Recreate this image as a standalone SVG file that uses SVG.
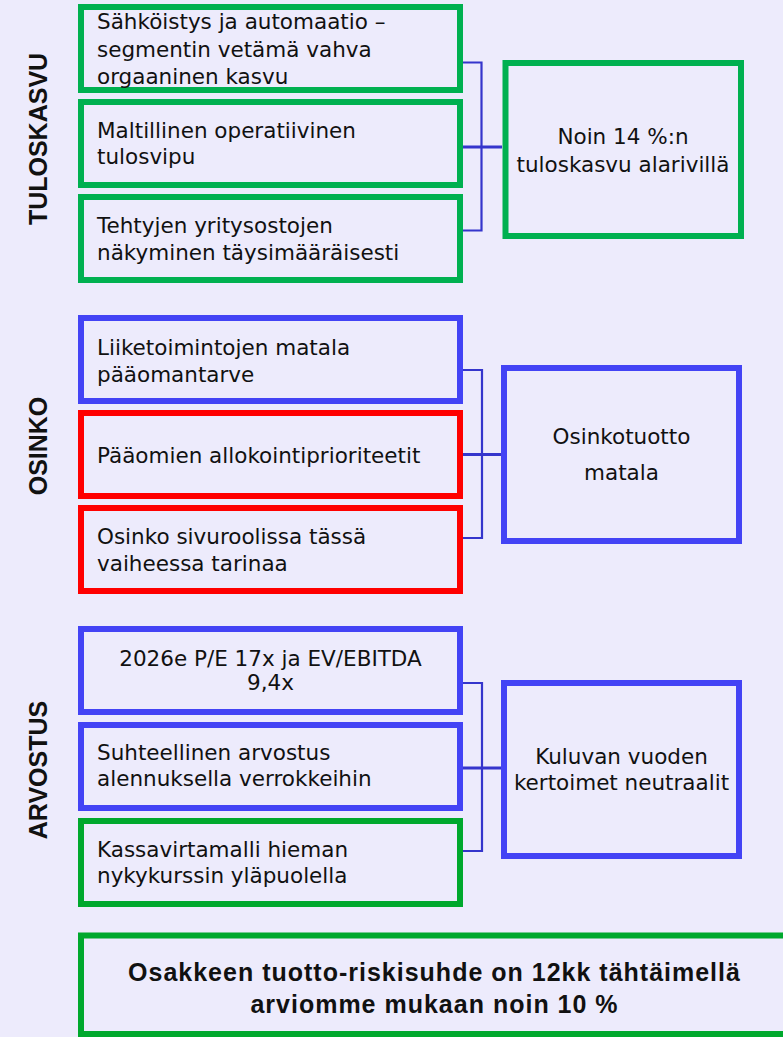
<svg xmlns="http://www.w3.org/2000/svg" width="783" height="1037" viewBox="0 0 783 1037">
<style>
.bg{fill:#EDEBFC}
.box{fill:#EDEBFC;stroke-width:6}
.g{stroke:#00B050}
.g2{stroke:#00A82D}
.b{stroke:#4343F5}
.r{stroke:#FF0000}
.t{font-family:"DejaVu Sans",sans-serif;font-size:21.5px;fill:#111}
.c{text-anchor:middle}
.lab{font-family:"Liberation Sans",Arial,sans-serif;font-weight:bold;font-size:25px;fill:#111;text-anchor:middle}
.bt{font-family:"Liberation Sans",Arial,sans-serif;font-weight:bold;font-size:25px;fill:#111;text-anchor:middle;letter-spacing:1px}
.con{fill:none;stroke:#3535CC;stroke-width:2.2}
.mid{fill:none;stroke:#3535CC;stroke-width:3.2}
</style>
<rect class="bg" x="0" y="0" width="783" height="1037"/>

<g id="connectors">
<path class="con" d="M463 62.5H481.5V230.5H463"/>
<path class="mid" d="M463 147H502"/>
<path class="con" d="M463 370H482V538H463"/>
<path class="mid" d="M463 454.5H501"/>
<path class="con" d="M463 683H482V851H463"/>
<path class="mid" d="M463 768H501"/>
</g>

<g id="label-tuloskasvu"><text class="lab" x="46.5" y="139" transform="rotate(-90 46.5 139)">TULOSKASVU</text></g>
<g id="label-osinko"><text class="lab" x="46.5" y="446" transform="rotate(-90 46.5 446)">OSINKO</text></g>
<g id="label-arvostus"><text class="lab" x="46.5" y="770" transform="rotate(-90 46.5 770)">ARVOSTUS</text></g>

<g id="t1">
<rect class="box g" x="81" y="7" width="379" height="83"/>
<text class="t" x="97" y="29">Sähköistys ja automaatio –</text>
<text class="t" x="97" y="56.5">segmentin vetämä vahva</text>
<text class="t" x="97" y="84">orgaaninen kasvu</text>
</g>
<g id="t2">
<rect class="box g" x="81" y="102" width="379" height="83"/>
<text class="t" x="97" y="138.3">Maltillinen operatiivinen</text>
<text class="t" x="97" y="164.3">tulosvipu</text>
</g>
<g id="t3">
<rect class="box g" x="81" y="197" width="379" height="83"/>
<text class="t" x="97" y="233">Tehtyjen yritysostojen</text>
<text class="t" x="97" y="260">näkyminen täysimääräisesti</text>
</g>
<g id="t-result">
<rect class="box g" x="505.5" y="63" width="235.5" height="173"/>
<text class="t c" x="623" y="143.5">Noin 14 %:n</text>
<text class="t c" x="623" y="172.3">tuloskasvu alarivillä</text>
</g>

<g id="o1">
<rect class="box b" x="81" y="318" width="379" height="83"/>
<text class="t" x="97" y="355">Liiketoimintojen matala</text>
<text class="t" x="97" y="382">pääomantarve</text>
</g>
<g id="o2">
<rect class="box r" x="81" y="413" width="379" height="83"/>
<text class="t" x="97" y="463">Pääomien allokointiprioriteetit</text>
</g>
<g id="o3">
<rect class="box r" x="81" y="508" width="379" height="83"/>
<text class="t" x="97" y="543.5">Osinko sivuroolissa tässä</text>
<text class="t" x="97" y="571">vaiheessa tarinaa</text>
</g>
<g id="o-result">
<rect class="box b" x="504" y="368" width="235" height="173"/>
<text class="t c" x="621.5" y="443.5">Osinkotuotto</text>
<text class="t c" x="621.5" y="479.5">matala</text>
</g>

<g id="a1">
<rect class="box b" x="81" y="629" width="379" height="83"/>
<text class="t c" x="270.5" y="666">2026e P/E 17x ja EV/EBITDA</text>
<text class="t c" x="270.5" y="690">9,4x</text>
</g>
<g id="a2">
<rect class="box b" x="81" y="725" width="379" height="83"/>
<text class="t" x="97" y="760">Suhteellinen arvostus</text>
<text class="t" x="97" y="785.7">alennuksella verrokkeihin</text>
</g>
<g id="a3">
<rect class="box g2" x="81" y="821" width="379" height="83"/>
<text class="t" x="97" y="857.3">Kassavirtamalli hieman</text>
<text class="t" x="97" y="883.3">nykykurssin yläpuolella</text>
</g>
<g id="a-result">
<rect class="box b" x="504" y="683" width="235" height="173"/>
<text class="t c" x="621.5" y="764">Kuluvan vuoden</text>
<text class="t c" x="621.5" y="789.5">kertoimet neutraalit</text>
</g>

<g id="summary">
<rect class="box g2" x="81" y="935.5" width="740" height="98.5"/>
<text class="bt" x="434.5" y="981">Osakkeen tuotto-riskisuhde on 12kk tähtäimellä</text>
<text class="bt" x="434.5" y="1013">arviomme mukaan noin 10 %</text>
</g>
</svg>
